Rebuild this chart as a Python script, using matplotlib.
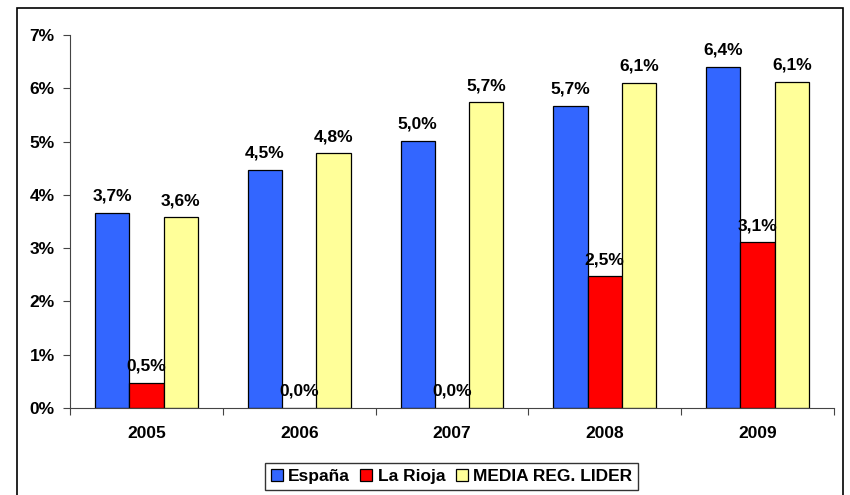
import matplotlib.pyplot as plt
from matplotlib.patches import Rectangle
import numpy as np

plt.rcParams['font.family'] = ['Liberation Sans', 'DejaVu Sans']
plt.rcParams['font.weight'] = 'bold'

years = ["2005", "2006", "2007", "2008", "2009"]
espana = [3.66, 4.47, 5.02, 5.67, 6.40]
rioja = [0.47, 0.0, 0.0, 2.47, 3.11]
media = [3.58, 4.78, 5.74, 6.10, 6.12]
series_names = ["España", "La Rioja", "MEDIA REG. LIDER"]
colors = ["#3366FF", "#FF0000", "#FFFF99"]

fig = plt.figure(figsize=(8.5, 4.95), dpi=100)
ax = fig.add_axes([70 / 850, 1 - 408 / 495, (834 - 70) / 850, (408 - 35) / 495])

# outer chart border
fig.patches.append(Rectangle((17 / 850, -0.05), (843 - 17) / 850, 1.05 - 8 / 495,
                             transform=fig.transFigure, fill=False,
                             edgecolor="black", linewidth=1.2))

x = np.arange(len(years))
w = 0.224
for i, (vals, name, c) in enumerate(zip([espana, rioja, media], series_names, colors)):
    pos = x + (i - 1) * w
    ax.bar(pos, vals, width=w, color=c, edgecolor="black", linewidth=0.9, label=name)
    for p, v in zip(pos, vals):
        ax.annotate(f"{v:.1f}%".replace(".", ","), (p, v), xytext=(0, 6.5),
                    textcoords="offset points", ha="center", va="bottom",
                    fontsize=12.5, fontweight="bold")

ax.set_xlim(-0.5, len(years) - 0.5)
ax.set_ylim(0, 7)
ax.set_yticks(range(8))
ax.set_yticklabels([f"{v}%" for v in range(8)])
ax.set_xticks(np.arange(-0.5, len(years), 1))
ax.set_xticklabels([])
ax.set_xticks(x, minor=True)
ax.set_xticklabels(years, minor=True)
ax.tick_params(axis="x", which="major", direction="out", length=5, color="#444444")
ax.tick_params(axis="x", which="minor", length=0, pad=13, labelsize=12.5)
ax.tick_params(axis="y", direction="out", length=5, pad=6, labelsize=12.5, color="#444444")
for s in ["top", "right"]:
    ax.spines[s].set_visible(False)
ax.spines["left"].set_color("#444444")
ax.spines["bottom"].set_color("#444444")

leg = fig.legend(loc="upper center", bbox_to_anchor=(0.531, 1 - 463 / 495), ncol=3,
                 frameon=True, fancybox=False, edgecolor="black", fontsize=12.5,
                 handlelength=0.7, handleheight=0.7, handletextpad=0.3,
                 columnspacing=0.6, borderpad=0.35, borderaxespad=0)
leg.get_frame().set_linewidth(1.0)

fig.savefig("out.png", dpi=100)
